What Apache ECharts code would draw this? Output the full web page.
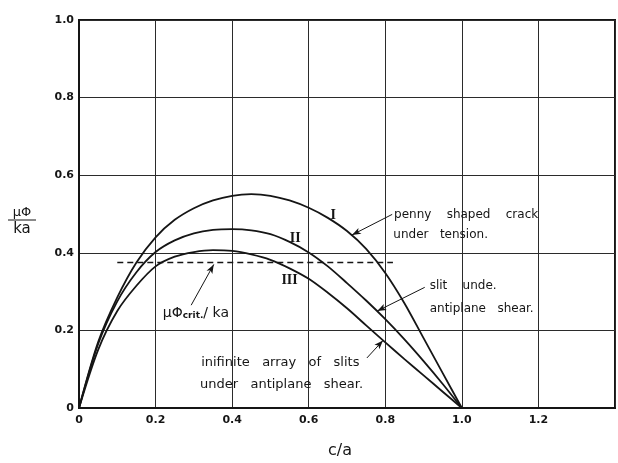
<!DOCTYPE html>
<html><head><meta charset="utf-8">
<script src="https://cdn.jsdelivr.net/npm/echarts@6/dist/echarts.min.js"></script>
<style>html,body{margin:0;padding:0;background:#fff}#c{width:618px;height:463px}</style>
</head><body><div id="c"></div>
<script>
// ---- data ----
const cOverA   = [0,0.05,0.1,0.15,0.2,0.25,0.3,0.35,0.4,0.45,0.5,0.55,0.6,0.65,0.7,0.75,0.8,0.85,0.9,0.95,1.0];
const curveI   = [0,0.17,0.285,0.375,0.44,0.485,0.515,0.535,0.547,0.551,0.547,0.535,0.516,0.49,0.456,0.41,0.348,0.27,0.18,0.09,0];
const curveII  = [0,0.165,0.275,0.35,0.402,0.432,0.45,0.459,0.461,0.458,0.448,0.428,0.401,0.365,0.322,0.277,0.229,0.177,0.121,0.062,0];
const curveIII = [0,0.15,0.25,0.315,0.365,0.39,0.402,0.407,0.405,0.396,0.382,0.36,0.333,0.297,0.257,0.213,0.169,0.126,0.084,0.042,0];
const critX = [0.10, 0.82];
const critY = [0.375, 0.375];
const xTickLabels = ['0','0.2','0.4','0.6','0.8','1.0','1.2',''];
const yTickLabels = ['0','0.2','0.4','0.6','0.8','1.0'];
// arrows: [tailX, tailY, headX, headY]
const arrowPenny = [0.818, 0.499, 0.713, 0.446];
const arrowSlit  = [0.903, 0.311, 0.779, 0.250];
const arrowCrit  = [0.293, 0.265, 0.352, 0.370];
const arrowArray = [0.752, 0.129, 0.794, 0.174];
// curve labels: [x, y]
const labelI = [0.664, 0.497];
const labelII = [0.565, 0.437];
const labelIII = [0.55, 0.329];
// note anchors (left, middle)
const notePenny1 = [0.823, 0.498];
const notePenny2 = [0.821, 0.446];
const noteSlit1 = [0.916, 0.316];
const noteSlit2 = [0.916, 0.255];
const noteCrit = [0.219, 0.245];
const noteArray1 = [0.319, 0.117];
const noteArray2 = [0.316, 0.060];

const FONT = 'DejaVu Sans';
const ink = '#151515';
const pair = ys => cOverA.map((x, i) => [x, ys[i]]);
const arrowLine = a => [{coord:[a[0], a[1]]}, {coord:[a[2], a[3]]}];

const chart = echarts.init(document.getElementById('c'), null, {renderer:'canvas'});
const curveStyle = {color: ink, width: 1.8};
const option = {
  animation: false,
  backgroundColor: '#fff',
  grid: {left: 79, top: 20, width: 536, height: 388, show: true, borderColor: ink, borderWidth: 2,
         backgroundColor: 'transparent', outerBoundsMode: 'none', containLabel: false},
  xAxis: {type: 'value', min: 0, max: 1.4, interval: 0.2,
    axisLine: {show: true, onZero: false, lineStyle: {color: ink, width: 2}},
    axisTick: {show: false},
    splitLine: {show: true, lineStyle: {color: '#2b2b2b', width: 1}},
    axisLabel: {color: ink, fontFamily: FONT, fontSize: 11, fontWeight: 'bold', margin: 7,
      showMaxLabel: true, formatter: v => xTickLabels[Math.round(v / 0.2)]}},
  yAxis: {type: 'value', min: 0, max: 1.0, interval: 0.2,
    axisLine: {show: true, onZero: false, lineStyle: {color: ink, width: 2}},
    axisTick: {show: false},
    splitLine: {show: true, lineStyle: {color: '#2b2b2b', width: 1}},
    axisLabel: {color: ink, fontFamily: FONT, fontSize: 11, fontWeight: 'bold', margin: 5,
      formatter: v => yTickLabels[Math.round(v / 0.2)]}},
  series: [
    {name: 'I', type: 'line', data: pair(curveI), smooth: 0.3, symbol: 'none', lineStyle: curveStyle},
    {name: 'II', type: 'line', data: pair(curveII), smooth: 0.3, symbol: 'none', lineStyle: curveStyle},
    {name: 'III', type: 'line', data: pair(curveIII), smooth: 0.3, symbol: 'none', lineStyle: curveStyle},
    {name: 'crit', type: 'line', data: critX.map((x, i) => [x, critY[i]]), symbol: 'none',
      lineStyle: {color: ink, width: 1.3, type: [6, 4]},
      markLine: {silent: true, symbol: ['none', 'arrow'], symbolSize: [5, 9], label: {show: false},
        lineStyle: {color: ink, width: 1, type: 'solid'},
        emphasis: {disabled: true},
        data: [arrowLine(arrowPenny), arrowLine(arrowSlit), arrowLine(arrowCrit), arrowLine(arrowArray)]}}
  ]
};
chart.setOption(option);

const px = p => chart.convertToPixel({gridIndex: 0}, p);
function note(text, at, size) {
  const q = px(at);
  return {type: 'text', x: q[0], y: q[1], silent: true,
    style: {text: text, fill: ink, font: size + 'px "' + FONT + '"', verticalAlign: 'middle', align: 'left'}};
}
function roman(text, at) {
  const q = px(at);
  return {type: 'text', x: q[0], y: q[1], silent: true,
    style: {text: text, fill: ink, font: 'bold 14px "Liberation Serif"', align: 'center', verticalAlign: 'middle'}};
}
const cq = px(noteCrit);
chart.setOption({graphic: [
  note('penny    shaped    crack', notePenny1, 12),
  note('under   tension.', notePenny2, 12),
  note('slit    unde.', noteSlit1, 12),
  note('antiplane   shear.', noteSlit2, 12),
  note('inifinite   array   of   slits', noteArray1, 13),
  note('under   antiplane   shear.', noteArray2, 13),
  roman('I', labelI), roman('II', labelII), roman('III', labelIII),
  {type: 'text', x: cq[0], y: cq[1], silent: true,
    style: {text: '{a|μΦ}{b|crit.}{a|/ ka}', verticalAlign: 'middle', align: 'left',
      rich: {a: {fontSize: 14, fontFamily: FONT, fill: ink},
             b: {fontSize: 9, fontFamily: FONT, fill: ink, fontWeight: 'bold', verticalAlign: 'bottom'}}}},
  // y axis name as a fraction
  {type: 'text', x: 22, y: 213, silent: true,
    style: {text: 'μΦ', fill: ink, font: '13px "' + FONT + '"', align: 'center', verticalAlign: 'middle'}},
  {type: 'line', silent: true, shape: {x1: 8, y1: 220, x2: 36, y2: 220}, style: {stroke: ink, lineWidth: 1}},
  {type: 'text', x: 22, y: 229, silent: true,
    style: {text: 'ka', fill: ink, font: '15px "' + FONT + '"', align: 'center', verticalAlign: 'middle'}},
  // x axis name
  {type: 'text', x: 340, y: 451, silent: true,
    style: {text: 'c/a', fill: ink, font: '16px "' + FONT + '"', align: 'center', verticalAlign: 'middle'}}
]});
</script></body></html>
